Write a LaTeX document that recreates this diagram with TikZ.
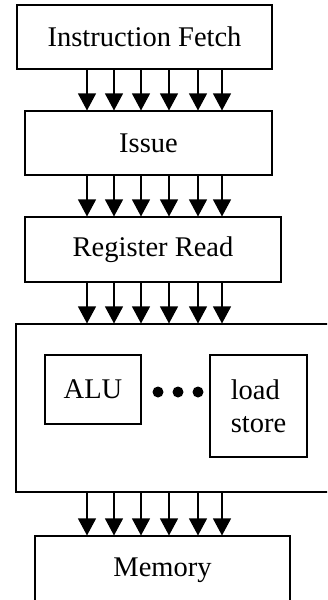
\documentclass[tikz,border=0pt]{standalone}
\usepackage{fontspec}
\setmainfont{Liberation Serif}
\usetikzlibrary{arrows.meta}
\begin{document}
\begin{tikzpicture}[x=1pt,y=-1pt,
  stage/.style={draw,line width=1.1pt,rectangle,inner sep=0pt,
    font=\fontsize{28.5}{34}\selectfont},
  bus/.style={line width=1.1pt,-{Triangle[width=18pt,length=17pt]}},
  dotmark/.style={fill=black,circle,inner sep=0pt,minimum size=11pt}]
\useasboundingbox (0,0) rectangle (327,600);
\clip (0,0) rectangle (327,600);
% pipeline stages
\node[stage,minimum width=255pt,minimum height=64pt] (IF) at (144.5,37) {Instruction Fetch};
\node[stage,minimum width=247pt,minimum height=64pt] (IS) at (148.5,143) {Issue};
\node[stage,minimum width=256pt,minimum height=65pt] (RR) at (153,249.5) {Register Read};
\node[stage,minimum width=330pt,minimum height=168pt] (EX) at (181,408) {};
\node[stage,minimum width=96pt,minimum height=69pt] (ALU) at (93,389.5) {ALU};
\node[stage,minimum width=97pt,minimum height=102pt,align=left] (LS) at (258.5,406) {load\\[-1pt]store};
\node[dotmark] (d1) at (158,392) {};
\node[dotmark] (d2) at (178,392) {};
\node[dotmark] (d3) at (198,392) {};
\node[stage,minimum width=255pt,minimum height=68pt] (MEM) at (162.5,570) {Memory};
% parallel buses between stages
\foreach \i/\x in {1/87,2/114,3/141,4/169,5/198,6/222}{
  \coordinate (c\i) at (\x,0);
  \draw[bus] (c\i |- IF.south) -- (c\i |- IS.north);
  \draw[bus] (c\i |- IS.south) -- (c\i |- RR.north);
  \draw[bus] (c\i |- RR.south) -- (c\i |- EX.north);
  \draw[bus] (c\i |- EX.south) -- (c\i |- MEM.north);
}
\end{tikzpicture}
\end{document}
